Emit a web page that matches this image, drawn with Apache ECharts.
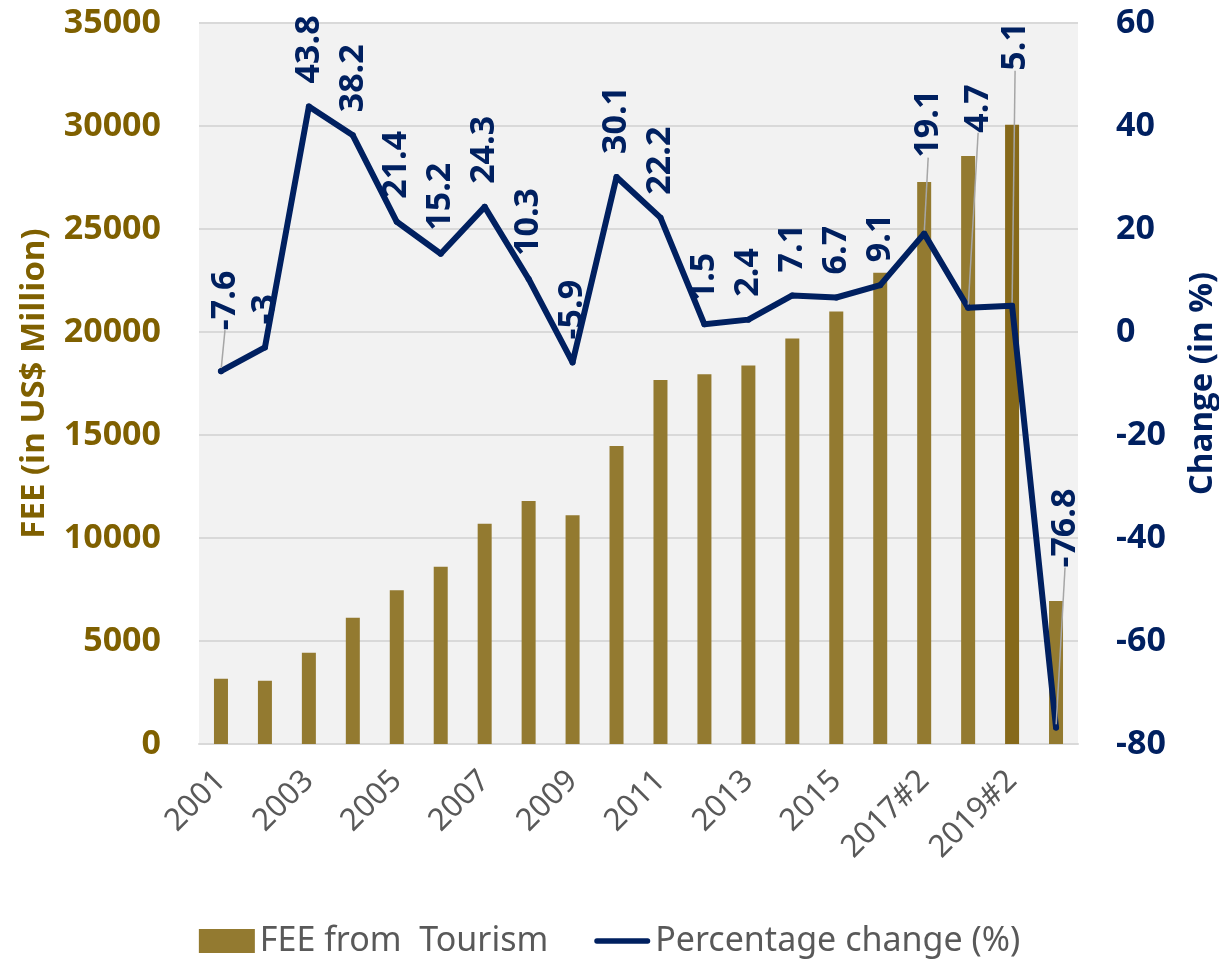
<!DOCTYPE html>
<html>
<head>
<meta charset="utf-8">
<script src="https://cdn.jsdelivr.net/npm/echarts@6/dist/echarts.min.js"></script>
<style>
  html, body { margin: 0; padding: 0; background: #fff; }
  #chart { width: 1219px; height: 969px; }
</style>
</head>
<body>
<div id="chart"></div>
<script>
// categories (only every other one is labelled on the axis)
var years = ['2001', '2002', '2003', '2004', '2005', '2006', '2007', '2008', '2009', '2010',
  '2011', '2012', '2013', '2014', '2015', '2016', '2017#2', '2018', '2019#2', '2020']

// FEE from tourism, US$ million
var fee = [3170, 3070, 4430, 6130, 7460, 8610, 10690, 11800, 11100, 14470,
  17670, 17950, 18370, 19680, 20990, 22880, 27280, 28540, 30060, 6940]

// percentage change (%)
var change = [-7.6, -3, 43.8, 38.2, 21.4, 15.2, 24.3, 10.3, -5.9, 30.1,
  22.2, 1.5, 2.4, 7.1, 6.7, 9.1, 19.1, 4.7, 5.1, -76.8]

var leftTicks = [0, 35000, 5000]
var rightTicks = [-80, 60, 20]

// labels that Excel pulled away from their point (with a leader line), screen px [x, y]
var labelShift = { 0: [4, -18], 16: [4, -53], 17: [10, -152], 18: [3, -212], 19: [9, -137] }

var gold = '#937a30'
var navy = '#002060'
var grey = '#595959'

var chart = echarts.init(document.getElementById('chart'))

chart.setOption({
  animation: false,
  grid: {
    left: 199,
    right: 141,
    top: 23,
    bottom: 225,
    outerBoundsMode: 'none',
    containLabel: false,
    show: true,
    backgroundColor: '#f2f2f2',
    borderWidth: 0
  },
  legend: {
    bottom: 6,
    left: 'center',
    itemWidth: 56,
    itemHeight: 24,
    itemGap: 46,
    textStyle: { color: grey, fontSize: 34, fontFamily: 'Noto Sans' },
    data: [
      { name: 'FEE from  Tourism', icon: 'rect' },
      { name: 'Percentage change (%)', icon: 'path://M3,0 L59,0 A3,3 0 0 1 59,6 L3,6 A3,3 0 0 1 3,0 Z' }
    ]
  },
  xAxis: {
    type: 'category',
    data: years,
    axisTick: { show: false },
    axisLine: { lineStyle: { color: '#d9d9d9', width: 2 } },
    axisLabel: {
      interval: 1,
      rotate: 45,
      margin: 32,
      color: grey,
      fontSize: 31,
      fontFamily: 'Noto Sans'
    }
  },
  yAxis: [{
    type: 'value',
    min: leftTicks[0],
    max: leftTicks[1],
    interval: leftTicks[2],
    name: 'FEE (in US$ Million)',
    nameLocation: 'middle',
    nameGap: 148,
    nameTextStyle: { color: '#7f6000', fontSize: 33, fontWeight: 'bold', fontFamily: 'Open Sans' },
    axisLine: { show: false },
    axisTick: { show: false },
    splitLine: { lineStyle: { color: '#d9d9d9', width: 2 } },
    axisLabel: {
      color: '#7f6000', fontSize: 34, fontWeight: 'bold', fontFamily: 'Open Sans', margin: 38,
      formatter: function (v) { return String(v) }
    }
  }, {
    type: 'value',
    min: rightTicks[0],
    max: rightTicks[1],
    interval: rightTicks[2],
    name: 'Change (in %)',
    nameLocation: 'middle',
    nameGap: 108,
    nameRotate: 90,
    nameTextStyle: { color: navy, fontSize: 33, fontWeight: 'bold', fontFamily: 'Open Sans' },
    axisLine: { show: false },
    axisTick: { show: false },
    splitLine: { show: false },
    axisLabel: { color: navy, fontSize: 34, fontWeight: 'bold', fontFamily: 'Open Sans', margin: 38 }
  }],
  series: [{
    name: 'FEE from  Tourism',
    type: 'bar',
    barWidth: 14,
    itemStyle: { color: gold },
    data: fee.map(function (v, i) {
      return i === 18 ? { value: v, itemStyle: { color: '#86691a' } } : v
    })
  }, {
    name: 'Percentage change (%)',
    type: 'line',
    yAxisIndex: 1,
    z: 5,
    symbol: 'circle',
    symbolSize: 6,
    itemStyle: { color: navy },
    lineStyle: { color: navy, width: 6, cap: 'round', join: 'round' },
    label: {
      show: true,
      position: 'top',
      distance: 20,
      rotate: 90,
      align: 'left',
      verticalAlign: 'middle',
      color: navy,
      fontSize: 34,
      fontWeight: 'bold',
      fontFamily: 'Open Sans'
    },
    labelLine: { show: false, lineStyle: { color: '#a6a6a6', width: 1.5 } },
    labelLayout: function (p) {
      // the label is rotated, so its dx/dy are in the rotated frame
      var s = labelShift[p.dataIndex]
      return s ? { dx: -s[1], dy: s[0] } : {}
    },
    data: change.map(function (v, i) {
      return labelShift[i] ? { value: v, labelLine: { show: true } } : v
    })
  }]
})
</script>
</body>
</html>
